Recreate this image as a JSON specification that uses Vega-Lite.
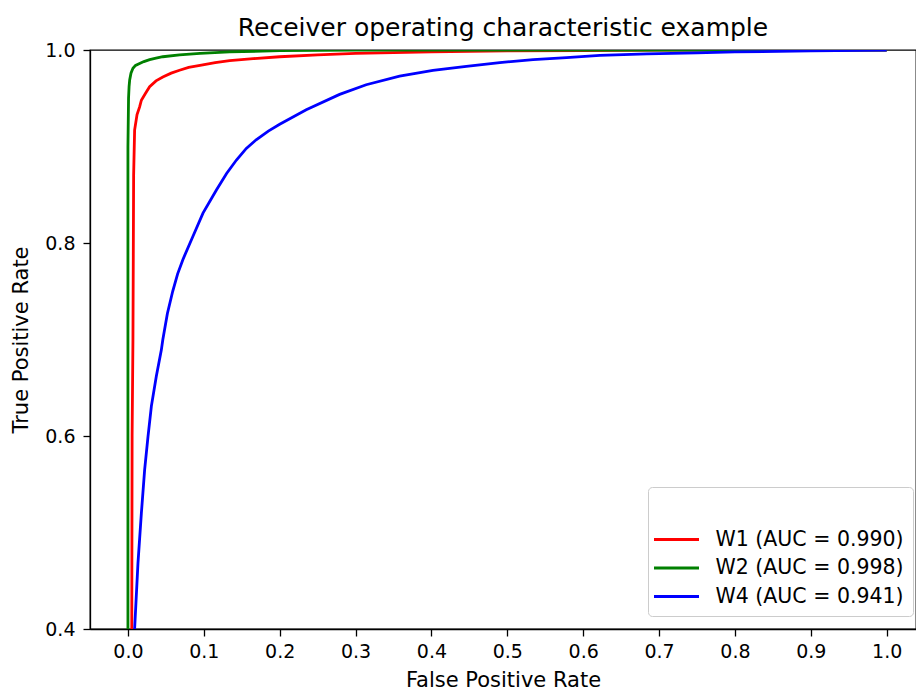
{
  "$schema": "https://vega.github.io/schema/vega-lite/v6.json",
  "width": 826,
  "height": 579,
  "autosize": {"type": "none"},
  "padding": {"left": 90, "top": 50, "right": 0, "bottom": 61},
  "background": "white",
  "title": {
    "text": "Receiver operating characteristic example",
    "font": "DejaVu Sans",
    "fontSize": 25,
    "fontWeight": "normal",
    "color": "#000000",
    "anchor": "middle",
    "baseline": "alphabetic",
    "offset": 8,
    "dy": 28
  },
  "config": {
    "view": {"stroke": "#000000", "strokeWidth": 1.3},
    "axis": {
      "grid": false,
      "domainColor": "#000000",
      "domainWidth": 1.3,
      "tickColor": "#000000",
      "tickWidth": 1.3,
      "tickSize": 7,
      "labelFont": "DejaVu Sans",
      "labelFontSize": 19,
      "labelColor": "#000000",
      "titleFont": "DejaVu Sans",
      "titleFontSize": 21,
      "titleFontWeight": "normal",
      "titleColor": "#000000"
    },
    "legend": {
      "labelFont": "DejaVu Sans",
      "labelFontSize": 20.5,
      "labelColor": "#000000",
      "titleFont": "DejaVu Sans",
      "titleFontSize": 19
    }
  },
  "data": {
    "values": [
      {"series": "W1 (AUC = 0.990)", "fpr": 0.005, "tpr": 0.38},
      {"series": "W1 (AUC = 0.990)", "fpr": 0.0055, "tpr": 0.6},
      {"series": "W1 (AUC = 0.990)", "fpr": 0.0066, "tpr": 0.7},
      {"series": "W1 (AUC = 0.990)", "fpr": 0.0075, "tpr": 0.87},
      {"series": "W1 (AUC = 0.990)", "fpr": 0.0088, "tpr": 0.917},
      {"series": "W1 (AUC = 0.990)", "fpr": 0.012, "tpr": 0.933},
      {"series": "W1 (AUC = 0.990)", "fpr": 0.0154, "tpr": 0.941},
      {"series": "W1 (AUC = 0.990)", "fpr": 0.0177, "tpr": 0.948},
      {"series": "W1 (AUC = 0.990)", "fpr": 0.023, "tpr": 0.955},
      {"series": "W1 (AUC = 0.990)", "fpr": 0.0286, "tpr": 0.962},
      {"series": "W1 (AUC = 0.990)", "fpr": 0.037, "tpr": 0.968},
      {"series": "W1 (AUC = 0.990)", "fpr": 0.046, "tpr": 0.972},
      {"series": "W1 (AUC = 0.990)", "fpr": 0.057, "tpr": 0.976},
      {"series": "W1 (AUC = 0.990)", "fpr": 0.068, "tpr": 0.979},
      {"series": "W1 (AUC = 0.990)", "fpr": 0.08, "tpr": 0.982},
      {"series": "W1 (AUC = 0.990)", "fpr": 0.095, "tpr": 0.984},
      {"series": "W1 (AUC = 0.990)", "fpr": 0.115, "tpr": 0.987},
      {"series": "W1 (AUC = 0.990)", "fpr": 0.134, "tpr": 0.989},
      {"series": "W1 (AUC = 0.990)", "fpr": 0.165, "tpr": 0.991},
      {"series": "W1 (AUC = 0.990)", "fpr": 0.2, "tpr": 0.993},
      {"series": "W1 (AUC = 0.990)", "fpr": 0.25, "tpr": 0.995},
      {"series": "W1 (AUC = 0.990)", "fpr": 0.3, "tpr": 0.9965},
      {"series": "W1 (AUC = 0.990)", "fpr": 0.4, "tpr": 0.998},
      {"series": "W1 (AUC = 0.990)", "fpr": 0.5, "tpr": 0.999},
      {"series": "W1 (AUC = 0.990)", "fpr": 0.6, "tpr": 0.9995},
      {"series": "W1 (AUC = 0.990)", "fpr": 0.7, "tpr": 0.9998},
      {"series": "W1 (AUC = 0.990)", "fpr": 0.85, "tpr": 1.0},
      {"series": "W1 (AUC = 0.990)", "fpr": 1.0, "tpr": 1.0},
      {"series": "W2 (AUC = 0.998)", "fpr": 0.0, "tpr": 0.38},
      {"series": "W2 (AUC = 0.998)", "fpr": 0.0, "tpr": 0.9},
      {"series": "W2 (AUC = 0.998)", "fpr": 0.0008, "tpr": 0.95},
      {"series": "W2 (AUC = 0.998)", "fpr": 0.0015, "tpr": 0.962},
      {"series": "W2 (AUC = 0.998)", "fpr": 0.0023, "tpr": 0.969},
      {"series": "W2 (AUC = 0.998)", "fpr": 0.004, "tpr": 0.976},
      {"series": "W2 (AUC = 0.998)", "fpr": 0.0066, "tpr": 0.981},
      {"series": "W2 (AUC = 0.998)", "fpr": 0.01, "tpr": 0.984},
      {"series": "W2 (AUC = 0.998)", "fpr": 0.0154, "tpr": 0.986},
      {"series": "W2 (AUC = 0.998)", "fpr": 0.021, "tpr": 0.988},
      {"series": "W2 (AUC = 0.998)", "fpr": 0.0286, "tpr": 0.99},
      {"series": "W2 (AUC = 0.998)", "fpr": 0.037, "tpr": 0.9915},
      {"series": "W2 (AUC = 0.998)", "fpr": 0.046, "tpr": 0.993},
      {"series": "W2 (AUC = 0.998)", "fpr": 0.068, "tpr": 0.995},
      {"series": "W2 (AUC = 0.998)", "fpr": 0.095, "tpr": 0.9965},
      {"series": "W2 (AUC = 0.998)", "fpr": 0.134, "tpr": 0.998},
      {"series": "W2 (AUC = 0.998)", "fpr": 0.2, "tpr": 0.9993},
      {"series": "W2 (AUC = 0.998)", "fpr": 0.3, "tpr": 1.0},
      {"series": "W2 (AUC = 0.998)", "fpr": 1.0, "tpr": 1.0},
      {"series": "W4 (AUC = 0.941)", "fpr": 0.008, "tpr": 0.38},
      {"series": "W4 (AUC = 0.941)", "fpr": 0.0088, "tpr": 0.4},
      {"series": "W4 (AUC = 0.941)", "fpr": 0.0132, "tpr": 0.468},
      {"series": "W4 (AUC = 0.941)", "fpr": 0.0177, "tpr": 0.52},
      {"series": "W4 (AUC = 0.941)", "fpr": 0.022, "tpr": 0.565},
      {"series": "W4 (AUC = 0.941)", "fpr": 0.0264, "tpr": 0.599},
      {"series": "W4 (AUC = 0.941)", "fpr": 0.0309, "tpr": 0.631},
      {"series": "W4 (AUC = 0.941)", "fpr": 0.0374, "tpr": 0.662},
      {"series": "W4 (AUC = 0.941)", "fpr": 0.044, "tpr": 0.689},
      {"series": "W4 (AUC = 0.941)", "fpr": 0.046, "tpr": 0.7},
      {"series": "W4 (AUC = 0.941)", "fpr": 0.052, "tpr": 0.727},
      {"series": "W4 (AUC = 0.941)", "fpr": 0.059, "tpr": 0.75},
      {"series": "W4 (AUC = 0.941)", "fpr": 0.0655, "tpr": 0.768},
      {"series": "W4 (AUC = 0.941)", "fpr": 0.0725, "tpr": 0.783},
      {"series": "W4 (AUC = 0.941)", "fpr": 0.0857, "tpr": 0.807},
      {"series": "W4 (AUC = 0.941)", "fpr": 0.0989, "tpr": 0.831},
      {"series": "W4 (AUC = 0.941)", "fpr": 0.1166, "tpr": 0.855},
      {"series": "W4 (AUC = 0.941)", "fpr": 0.13, "tpr": 0.872},
      {"series": "W4 (AUC = 0.941)", "fpr": 0.143, "tpr": 0.886},
      {"series": "W4 (AUC = 0.941)", "fpr": 0.156, "tpr": 0.898},
      {"series": "W4 (AUC = 0.941)", "fpr": 0.169, "tpr": 0.907},
      {"series": "W4 (AUC = 0.941)", "fpr": 0.185, "tpr": 0.916},
      {"series": "W4 (AUC = 0.941)", "fpr": 0.2, "tpr": 0.923},
      {"series": "W4 (AUC = 0.941)", "fpr": 0.235, "tpr": 0.938},
      {"series": "W4 (AUC = 0.941)", "fpr": 0.279, "tpr": 0.954},
      {"series": "W4 (AUC = 0.941)", "fpr": 0.314, "tpr": 0.964},
      {"series": "W4 (AUC = 0.941)", "fpr": 0.358, "tpr": 0.973},
      {"series": "W4 (AUC = 0.941)", "fpr": 0.402, "tpr": 0.979},
      {"series": "W4 (AUC = 0.941)", "fpr": 0.446, "tpr": 0.983},
      {"series": "W4 (AUC = 0.941)", "fpr": 0.49, "tpr": 0.987},
      {"series": "W4 (AUC = 0.941)", "fpr": 0.534, "tpr": 0.99},
      {"series": "W4 (AUC = 0.941)", "fpr": 0.578, "tpr": 0.992},
      {"series": "W4 (AUC = 0.941)", "fpr": 0.622, "tpr": 0.9945},
      {"series": "W4 (AUC = 0.941)", "fpr": 0.684, "tpr": 0.996},
      {"series": "W4 (AUC = 0.941)", "fpr": 0.75, "tpr": 0.997},
      {"series": "W4 (AUC = 0.941)", "fpr": 0.8, "tpr": 0.998},
      {"series": "W4 (AUC = 0.941)", "fpr": 0.9, "tpr": 0.999},
      {"series": "W4 (AUC = 0.941)", "fpr": 1.0, "tpr": 1.0}
    ]
  },
  "mark": {"type": "line", "strokeWidth": 2.8, "clip": true},
  "encoding": {
    "x": {
      "field": "fpr",
      "type": "quantitative",
      "scale": {"domain": [-0.05, 1.0386], "nice": false, "zero": false},
      "axis": {
        "title": "False Positive Rate",
        "values": [0, 0.1, 0.2, 0.3, 0.4, 0.5, 0.6, 0.7, 0.8, 0.9, 1.0],
        "format": ".1f",
        "labelPadding": 6,
        "titlePadding": 8
      }
    },
    "y": {
      "field": "tpr",
      "type": "quantitative",
      "scale": {"domain": [0.4, 1.0], "nice": false, "zero": false},
      "axis": {
        "title": "True Positive Rate",
        "values": [0.4, 0.6, 0.8, 1.0],
        "format": ".1f",
        "labelPadding": 8,
        "titlePadding": 13
      }
    },
    "color": {
      "field": "series",
      "type": "nominal",
      "scale": {
        "domain": ["W1 (AUC = 0.990)", "W2 (AUC = 0.998)", "W4 (AUC = 0.941)"],
        "range": ["#ff0000", "#008000", "#0000ff"]
      },
      "legend": {
        "title": "\u00a0",
        "orient": "none",
        "legendX": 558,
        "legendY": 437,
        "padding": 9,
        "titlePadding": 8,
        "strokeColor": "#cccccc",
        "cornerRadius": 4,
        "fillColor": "rgba(255,255,255,0.8)",
        "symbolType": "M-1.5,0H1.5",
        "symbolSize": 900,
        "symbolStrokeWidth": 2.8,
        "symbolOffset": 3,
        "labelOffset": 22.5,
        "labelLimit": 300,
        "rowPadding": 1.5
      }
    },
    "order": [{"field": "fpr", "type": "quantitative"}, {"field": "tpr", "type": "quantitative"}]
  }
}
